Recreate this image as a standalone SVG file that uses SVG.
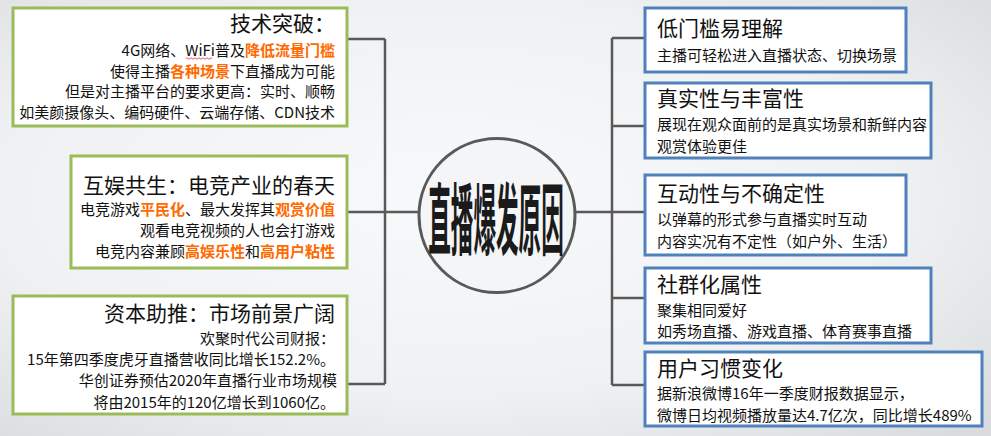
<svg xmlns="http://www.w3.org/2000/svg" width="991" height="436" viewBox="0 0 991 436">
<defs>
<radialGradient id="bg" cx="0.45" cy="0.45" r="0.75">
<stop offset="0" stop-color="#f8f9fa"/>
<stop offset="0.6" stop-color="#f0f1f3"/>
<stop offset="1" stop-color="#d9dbde"/>
</radialGradient>
<style>
.lbox{fill:#ffffff;stroke:#9bbb59;stroke-width:3}
.rbox{fill:#ffffff;stroke:#4f81bd;stroke-width:3}
.ln{stroke:#595959;stroke-width:2.5;fill:none}
text{font-family:"Microsoft YaHei","Noto Sans CJK SC","Noto Sans",sans-serif;fill:#111111}
.t{font-size:21px}
.s{font-size:15px}
.r{text-anchor:end}
.o{fill:#ff6a00;font-weight:bold}
.c{font-size:78px;font-weight:bold;text-anchor:middle;fill:#1a1a1a}
</style>
</defs>
<rect x="0" y="0" width="991" height="436" fill="url(#bg)"/>
<g id="connectors">
<path class="ln" d="M347 39H385M347 212H419M347 384H385M385 39V384"/>
<path class="ln" d="M575 212H612M612 38V385M612 38H645M612 126H645M612 212H645M612 298H645M612 385H645"/>
</g>
<g id="center">
<ellipse cx="497" cy="215.5" rx="78" ry="77" fill="#f4f5f7" stroke="#595959" stroke-width="3"/>
<text class="c" transform="translate(496,249) scale(0.29,1)" x="0" y="0">直播爆发原因</text>
</g>
<g id="tech">
<rect class="lbox" x="13" y="8" width="334" height="118"/>
<text class="t r" x="335" y="31">技术突破：</text>
<text class="s r" x="335" y="56">4G网络、WiFi普及<tspan class="o">降低流量门槛</tspan></text>
<text class="s r" x="335" y="77">使得主播<tspan class="o">各种场景</tspan>下直播成为可能</text>
<text class="s r" x="335" y="97">但是对主播平台的要求更高：实时、顺畅</text>
<text class="s r" x="335" y="118">如美颜摄像头、编码硬件、云端存储、CDN技术</text>
<path d="M186 58.5q1-1.5 2 0t2 0t2 0t2 0t2 0t2 0t2 0t2 0t2 0t2 0t2 0t2 0t2 0" fill="none" stroke="#e03030" stroke-width="0.8"/>
</g>
<g id="esports">
<rect class="lbox" x="71" y="156" width="276" height="112"/>
<text class="t r" x="335" y="193">互娱共生：电竞产业的春天</text>
<text class="s r" x="335" y="215">电竞游戏<tspan class="o">平民化</tspan>、最大发挥其<tspan class="o">观赏价值</tspan></text>
<text class="s r" x="335" y="236">观看电竞视频的人也会打游戏</text>
<text class="s r" x="335" y="257">电竞内容兼顾<tspan class="o">高娱乐性</tspan>和<tspan class="o">高用户粘性</tspan></text>
</g>
<g id="capital">
<rect class="lbox" x="13" y="296" width="334" height="118"/>
<text class="t r" x="335" y="321">资本助推：市场前景广阔</text>
<text class="s r" x="335" y="344">欢聚时代公司财报：</text>
<text class="s r" x="335" y="365">15年第四季度虎牙直播营收同比增长152.2%。</text>
<text class="s r" x="337" y="386">华创证券预估2020年直播行业市场规模</text>
<text class="s r" x="335" y="408">将由2015年的120亿增长到1060亿。</text>
</g>
<g id="low">
<rect class="rbox" x="645" y="8" width="261" height="64"/>
<text class="t" x="657" y="36">低门槛易理解</text>
<text class="s" x="657" y="61">主播可轻松进入直播状态、切换场景</text>
</g>
<g id="real">
<rect class="rbox" x="645" y="83" width="286" height="75"/>
<text class="t" x="657" y="106">真实性与丰富性</text>
<text class="s" x="657" y="130">展现在观众面前的是真实场景和新鲜内容</text>
<text class="s" x="657" y="152">观赏体验更佳</text>
</g>
<g id="interact">
<rect class="rbox" x="645" y="175" width="261" height="80"/>
<text class="t" x="657" y="201">互动性与不确定性</text>
<text class="s" x="657" y="225">以弹幕的形式参与直播实时互动</text>
<text class="s" x="657" y="247">内容实况有不定性（如户外、生活）</text>
</g>
<g id="social">
<rect class="rbox" x="645" y="268" width="286" height="75"/>
<text class="t" x="657" y="292">社群化属性</text>
<text class="s" x="657" y="316">聚集相同爱好</text>
<text class="s" x="657" y="337">如秀场直播、游戏直播、体育赛事直播</text>
</g>
<g id="habit">
<rect class="rbox" x="645" y="352" width="337" height="74"/>
<text class="t" x="657" y="376">用户习惯变化</text>
<text class="s" x="657" y="399">据新浪微博16年一季度财报数据显示，</text>
<text class="s" x="657" y="421">微博日均视频播放量达4.7亿次，同比增长489%</text>
</g>
</svg>
